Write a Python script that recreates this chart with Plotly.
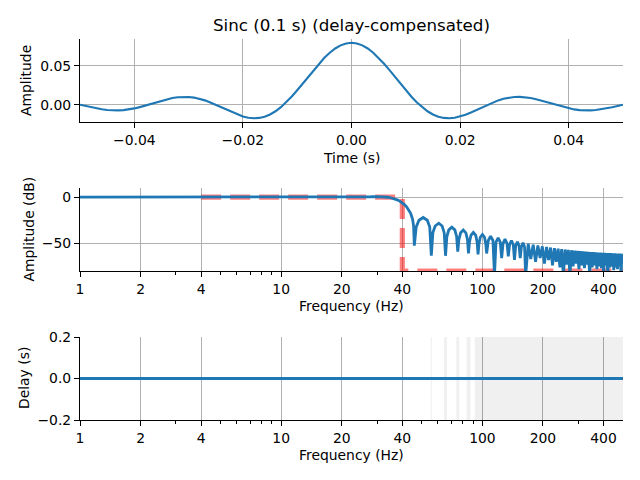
import plotly.graph_objects as go

# ---------------- data ----------------
impulse_ms = [-50, -49, -48, -47, -46, -45, -44, -43, -42, -41, -40, -39, -38, -37, -36, -35, -34, -33, -32, -31,
              -30, -29, -28, -27, -26, -25, -24, -23, -22, -21, -20, -19, -18, -17, -16, -15, -14, -13, -12, -11,
              -10, -9, -8, -7, -6, -5, -4, -3, -2, -1, 0, 1, 2, 3, 4, 5, 6, 7, 8, 9, 10, 11, 12, 13, 14, 15, 16,
              17, 18, 19, 20, 21, 22, 23, 24, 25, 26, 27, 28, 29, 30, 31, 32, 33, 34, 35, 36, 37, 38, 39, 40, 41,
              42, 43, 44, 45, 46, 47, 48, 49, 50]
impulse_amp = [0.0, -0.00161, -0.00318, -0.00461, -0.00581, -0.00669, -0.00718, -0.00723, -0.00682, -0.00595,
               -0.00465, -0.00299, -0.00104, 0.00107, 0.00324, 0.00532, 0.00718, 0.00868, 0.00972, 0.01019,
               0.01004, 0.00922, 0.00774, 0.00565, 0.00303, 0.0, -0.00328, -0.00663, -0.00985, -0.01273,
               -0.01506, -0.01663, -0.01728, -0.01685, -0.01525, -0.01241, -0.00833, -0.00305, 0.00331, 0.01060,
               0.01861, 0.02711, 0.03581, 0.04443, 0.05267, 0.06023, 0.06683, 0.07225, 0.07627, 0.07874,
               0.07958,
               0.07874, 0.07627, 0.07225, 0.06683, 0.06023, 0.05267, 0.04443, 0.03581, 0.02711, 0.01861,
               0.01060, 0.00331, -0.00305, -0.00833, -0.01241, -0.01525, -0.01685, -0.01728, -0.01663, -0.01506,
               -0.01273, -0.00985, -0.00663, -0.00328, 0.0, 0.00303, 0.00565, 0.00774, 0.00922, 0.01004,
               0.01019, 0.00972, 0.00868, 0.00718, 0.00532, 0.00324, 0.00107, -0.00104, -0.00299, -0.00465,
               -0.00595, -0.00682, -0.00723, -0.00718, -0.00669, -0.00581, -0.00461, -0.00318, -0.00161, 0.0]

resp_hz = [1, 2, 4, 10, 20, 25, 28, 30, 32, 33, 34, 35, 36, 37, 38, 39, 40, 41, 42, 43, 44, 45, 45.5, 45.9,
           46.9, 48.4, 50.8, 53.25, 54.75, 55.75,
           56.75, 58.25, 60.7, 63.1, 64.6, 65.6,
           66.6, 68.1, 70.5, 72.95, 74.45, 75.45,
           76.45, 77.95, 80.4, 82.8, 84.3, 85.3,
           86.3, 87.8, 90.2, 92.65, 94.15, 95.15,
           96.15, 97.65, 100.1, 102.5, 104.0, 105.0,
           107.0, 109.9, 112.85, 114.85,
           116.85, 119.8, 122.7, 124.7,
           126.7, 129.6, 132.55, 134.55,
           136.55, 139.5, 142.4, 144.4,
           146.4, 149.3, 152.25, 154.25,
           156.25, 159.2, 162.1, 164.1,
           169.0, 173.95, 178.9, 183.8, 188.7, 193.65, 198.6, 203.5, 208.4, 213.35, 218.3, 223.2,
           228.1, 233.05, 238.0, 242.9, 247.8, 252.75, 257.7, 262.6, 267.5, 272.45, 277.4, 282.3,
           287.2, 292.15, 297.1, 302.0, 306.9, 311.85, 316.8, 321.7, 326.6, 331.55, 336.5, 341.4,
           346.3, 351.25, 356.2, 361.1, 366.0, 370.95, 375.9, 380.8, 385.7, 390.65, 395.6, 400.5,
           405.4, 410.35, 415.3, 420.2, 425.1, 430.05, 435.0, 439.9, 444.8, 449.75, 454.7, 459.6,
           464.5, 469.45, 474.4, 479.3, 484.2, 489.15, 494.1, 499.0, 500]
resp_db = [0.0, 0.0, 0.0, 0.0, -0.2, 0.2, 0.5, 0.7, 0.56, 0.32, -0.02, -0.57, -1.24, -2.1, -3.15, -4.44,
           -6.02, -7.95, -10.33, -13.37, -17.5, -23.9, -31.0, -52.6,
           -32.2, -25.0, -22.0, -25.0, -32.2, -63.5,
           -38.4, -31.2, -28.2, -31.2, -38.4, -63.5,
           -42.6, -35.4, -32.4, -35.4, -42.6, -59.0,
           -45.8, -38.6, -35.6, -38.6, -45.8, -61.0,
           -48.4, -41.2, -38.2, -41.2, -48.4, -62.0,
           -50.6, -43.4, -40.4, -43.4, -50.6, -61.0,
           -46.9, -42.3, -46.9, -85.0,
           -48.6, -44.0, -48.6, -66.0,
           -50.1, -45.5, -50.1, -64.0,
           -51.5, -46.9, -51.5, -68.0,
           -52.8, -48.2, -52.8, -66.0,
           -54.0, -49.4, -54.0, -85.0,
           -50.5, -67.0, -51.5, -70.0, -52.4, -66.0, -53.3, -72.0, -54.0, -68.0, -54.6, -74.0,
           -55.2, -70.0, -55.7, -76.0, -56.2, -85.0, -56.7, -73.0, -57.1, -85.0, -57.5, -75.0,
           -57.9, -72.0, -58.2, -78.0, -58.5, -74.0, -58.8, -77.0, -59.0, -73.0, -59.2, -85.0,
           -59.4, -76.0, -59.6, -74.0, -59.8, -78.0, -60.0, -75.0, -60.1, -77.0, -60.2, -85.0,
           -60.4, -74.0, -60.5, -85.0, -60.6, -76.0, -60.7, -75.0, -60.8, -79.0, -60.9, -76.0,
           -61.0, -78.0, -61.1, -75.0, -61.2, -85.0, -61.3, -73.0, -65.0]

ideal_hz = [4, 40, 40, 500]
ideal_db = [0, 0, -80, -80]

delay_hz = [1, 500]
delay_s = [0.0, 0.0]

shade_lo_hz = [55.4, 64.5, 74.2, 83.5, 91.7]
shade_hi_hz = [56.1, 66.7, 76.7, 87.3, 500]

time_ticks = [-0.04, -0.02, 0.0, 0.02, 0.04]
time_ticktext = ["\u22120.04", "\u22120.02", "0.00", "0.02", "0.04"]
amp_ticks = [0.0, 0.05]
amp_ticktext = ["0.00", "0.05"]
freq_ticks = [1, 2, 4, 10, 20, 40, 100, 200, 400]
freq_ticktext = ["1", "2", "4", "10", "20", "40", "100", "200", "400"]
freq_minor = [3, 5, 6, 7, 8, 9, 30, 50, 60, 70, 80, 90, 300]
db_ticks = [-50, 0]
db_ticktext = ["\u221250", "0"]
delay_ticks = [-0.2, 0.0, 0.2]
delay_ticktext = ["\u22120.2", "0.0", "0.2"]

# ---------------- figure ----------------
# the page body has an 8 px margin, so the figure is 8 px smaller and all
# pixel positions below are shifted by that offset
OFF = 8
W, H = 640 - OFF, 480 - OFF
BLUE = "#1f77b4"
FONT = "DejaVu Sans"
FS = 13.9


def px_x(p):
    return (p - OFF) / W


def px_y(p):
    return 1 - (p - OFF) / H


left, right = 80, 623
tops = [(39, 122), (188, 271), (337, 420)]

fig = go.Figure()

# impulse response
fig.add_trace(go.Scatter(x=[m / 1000 for m in impulse_ms], y=impulse_amp, mode="lines",
                         line=dict(color=BLUE, width=2.1), xaxis="x", yaxis="y", showlegend=False))

# ideal response (behind)
fig.add_trace(go.Scatter(x=ideal_hz, y=ideal_db, mode="lines",
                         line=dict(color="rgba(255,0,0,0.5)", width=5.2, dash="20px,9px"),
                         xaxis="x2", yaxis="y2", showlegend=False))
# magnitude response
fig.add_trace(go.Scatter(x=resp_hz, y=resp_db, mode="lines",
                         line=dict(color=BLUE, width=2.8), xaxis="x2", yaxis="y2", showlegend=False))

# shading on delay plot
sx, sy = [], []
for lo, hi in zip(shade_lo_hz, shade_hi_hz):
    sx += [lo, hi, hi, lo, lo, None]
    sy += [-0.2, -0.2, 0.2, 0.2, -0.2, None]
fig.add_trace(go.Scatter(x=sx, y=sy, mode="lines", fill="toself", fillcolor="rgba(0,0,0,0.06)",
                         line=dict(width=0), xaxis="x3", yaxis="y3", showlegend=False, hoverinfo="skip"))
fig.add_trace(go.Scatter(x=delay_hz, y=delay_s, mode="lines",
                         line=dict(color=BLUE, width=2.8), xaxis="x3", yaxis="y3", showlegend=False))

common = dict(showline=True, linecolor="black", linewidth=1.1, ticks="outside", ticklen=5,
              tickwidth=1.1, tickcolor="black", showgrid=True, gridcolor="#b0b0b0", gridwidth=1.1,
              zeroline=False, tickfont=dict(family=FONT, size=FS, color="black"), automargin=False)

dom_x = [px_x(left), px_x(right)]
doms_y = [[px_y(b), px_y(t)] for t, b in tops]

minor = dict(ticks="outside", ticklen=3, tickwidth=0.9, tickcolor="black", tickmode="array",
             tickvals=freq_minor, showgrid=False)

fig.update_layout(
    width=W, height=H, autosize=False,
    margin=dict(l=0, r=0, t=0, b=0),
    paper_bgcolor="white", plot_bgcolor="white",
    font=dict(family=FONT, size=FS, color="black"),
    xaxis=dict(domain=dom_x, anchor="y", range=[-0.05, 0.05], tickmode="array",
               tickvals=time_ticks, ticktext=time_ticktext, **common),
    yaxis=dict(domain=doms_y[0], anchor="x", range=[-0.0221, 0.0844], tickmode="array",
               tickvals=amp_ticks, ticktext=amp_ticktext, **common),
    xaxis2=dict(domain=dom_x, anchor="y2", type="log", range=[0, 2.69897], tickmode="array",
                tickvals=freq_ticks, ticktext=freq_ticktext, minor=minor, **common),
    yaxis2=dict(domain=doms_y[1], anchor="x2", range=[-80, 10], tickmode="array",
                tickvals=db_ticks, ticktext=db_ticktext, **common),
    xaxis3=dict(domain=dom_x, anchor="y3", type="log", range=[0, 2.69897], tickmode="array",
                tickvals=freq_ticks, ticktext=freq_ticktext, minor=minor, **common),
    yaxis3=dict(domain=doms_y[2], anchor="x3", range=[-0.2, 0.2], tickmode="array",
                tickvals=delay_ticks, ticktext=delay_ticktext, **common),
)

cx = (left + right) / 2
annots = [
    dict(text="Sinc (0.1 s) (delay-compensated)", x=px_x(cx), y=px_y(25), size=16.7, angle=0),
    dict(text="Time (s)", x=px_x(cx), y=px_y(158), size=FS, angle=0),
    dict(text="Frequency (Hz)", x=px_x(cx), y=px_y(306), size=FS, angle=0),
    dict(text="Frequency (Hz)", x=px_x(cx), y=px_y(455), size=FS, angle=0),
    dict(text="Amplitude", x=px_x(26.5), y=px_y(80.5), size=FS, angle=-90),
    dict(text="Amplitude (dB)", x=px_x(28), y=px_y(229.5), size=FS, angle=-90),
    dict(text="Delay (s)", x=px_x(23.5), y=px_y(378.5), size=FS, angle=-90),
]
for a in annots:
    fig.add_annotation(text=a["text"], x=a["x"], y=a["y"], xref="paper", yref="paper",
                       xanchor="center", yanchor="middle", showarrow=False, textangle=a["angle"],
                       font=dict(family=FONT, size=a["size"], color="black"))

fig.write_html("out.html")
